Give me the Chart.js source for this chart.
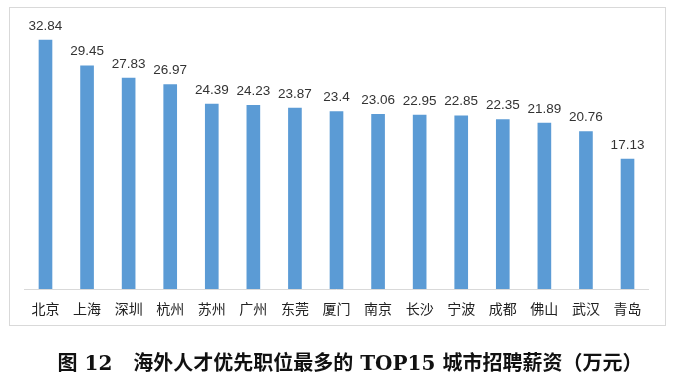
<!DOCTYPE html>
<html><head><meta charset="utf-8">
<script src="https://cdn.jsdelivr.net/npm/chart.js@4"></script>
<style>
html,body{margin:0;padding:0;background:#fff;}
#wrap{position:relative;width:676px;height:381px;}
#c{position:absolute;left:0;top:0;}
#box{position:absolute;left:9px;top:7px;width:657px;height:319px;border:1px solid #d9d9d9;box-sizing:border-box;}
#cap{position:absolute;left:6px;width:688px;top:349px;text-align:center;font:bold 20px "DejaVu Serif","Noto Sans CJK SC",serif;color:#111;white-space:pre;line-height:28px;}
</style></head>
<body><div id="wrap"><div id="box"></div><canvas id="c" width="676" height="381"></canvas>
<div id="cap">图 12   海外人才优先职位最多的 TOP15 城市招聘薪资（万元）</div></div>
<script>
const categories = ["北京","上海","深圳","杭州","苏州","广州","东莞","厦门","南京","长沙","宁波","成都","佛山","武汉","青岛"];
const salaries = [32.84,29.45,27.83,26.97,24.39,24.23,23.87,23.4,23.06,22.95,22.85,22.35,21.89,20.76,17.13];
const valueLabels = ["32.84","29.45","27.83","26.97","24.39","24.23","23.87","23.4","23.06","22.95","22.85","22.35","21.89","20.76","17.13"];

const labelPlugin = {
  id:'vals',
  afterDatasetsDraw(chart){
    const ctx = chart.ctx;
    const meta = chart.getDatasetMeta(0);
    ctx.save();
    ctx.font = '13.5px "Liberation Sans", Arial, sans-serif';
    ctx.fillStyle = '#333';
    ctx.textAlign = 'center';
    ctx.textBaseline = 'alphabetic';
    meta.data.forEach((bar,i)=>{
      ctx.fillText(valueLabels[i], bar.x, bar.y - 10.5);
    });
    ctx.restore();
  }
};

new Chart(document.getElementById('c'), {
  type:'bar',
  data:{labels:categories, datasets:[{data:salaries, backgroundColor:'#5B9BD5', barThickness:13}]},
  options:{
    responsive:false, animation:false,
    layout:{padding:{left:24.7, right:27.7, top:23.7, bottom:0}},
    plugins:{legend:{display:false}, tooltip:{enabled:false}},
    scales:{
      x:{
        grid:{display:false},
        border:{display:true, color:'#d9d9d9', width:1},
        ticks:{color:'#222', font:{family:'"Noto Sans CJK SC", sans-serif', size:14}, padding:3, maxRotation:0, autoSkip:false},
        afterFit(s){ s.height = 92; }
      },
      y:{display:false, min:0, max:35}
    }
  },
  plugins:[labelPlugin]
});
</script></body></html>
